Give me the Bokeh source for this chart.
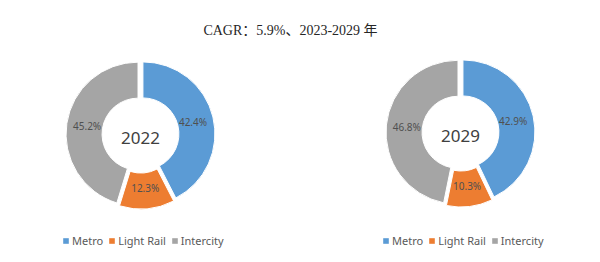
import numpy as np
from bokeh.plotting import figure
from bokeh.models import Range1d, ColumnDataSource, Legend, LegendItem
from bokeh.core.properties import value
from bokeh.embed import file_html
from bokeh.resources import INLINE

title_text = "CAGR：5.9%、2023-2029 年"
categories = ["Metro", "Light Rail", "Intercity"]
years = ["2022", "2029"]
share_2022 = [42.4, 12.3, 45.2]
share_2029 = [42.9, 10.3, 46.8]
colors = ["#5B9BD5", "#ED7D31", "#A5A5A5"]

W, H = 600, 262
p = figure(width=W, height=H, x_range=Range1d(0, W), y_range=Range1d(0, H),
           output_backend="svg", toolbar_location=None, min_border=0,
           x_axis_location=None, y_axis_location=None)
p.grid.visible = False
p.outline_line_color = None
p.background_fill_color = "white"
p.border_fill_color = "white"

# title
p.text(x=[290], y=[H - 30], text=[title_text], text_align="center", text_baseline="middle",
       text_font=value("Liberation Serif, Noto Sans CJK SC"), text_font_size="14px",
       text_color="#262626")

centers = [(140, H - 134), (460, H - 132)]
legend_x = [62, 382]
R_out, R_in, explode = 72, 36, 2.5
R_lab = (R_out + R_in) / 2

for (cx, cy), year, shares, lx0 in zip(centers, years, [share_2022, share_2029], legend_x):
    vals = np.array(shares, dtype=float)
    frac = vals / vals.sum()
    cum = np.concatenate([[0.0], np.cumsum(frac)])
    start = np.pi / 2 - cum[1:] * 2 * np.pi
    end = np.pi / 2 - cum[:-1] * 2 * np.pi
    mid = (start + end) / 2
    src = ColumnDataSource(dict(
        x=cx + explode * np.cos(mid), y=cy + explode * np.sin(mid),
        start=start, end=end, color=colors,
        lx=cx + R_lab * np.cos(mid), ly=cy + R_lab * np.sin(mid),
        label=[f"{v:.1f}%" for v in shares],
    ))
    p.annular_wedge(x="x", y="y", inner_radius=R_in, outer_radius=R_out,
                    inner_radius_units="screen", outer_radius_units="screen",
                    start_angle="start", end_angle="end", fill_color="color",
                    line_color="white", line_width=1, source=src)
    p.text(x="lx", y="ly", text="label", source=src, text_align="center",
           text_baseline="middle", text_font=value("Noto Sans"), text_font_size="10px",
           text_color="#505050")
    p.text(x=[cx], y=[cy - 3], text=[year], text_align="center", text_baseline="middle",
           text_font=value("Noto Sans"), text_font_size="17px", text_color="#404040")

    items = []
    for cat, c in zip(categories, colors):
        r = p.rect(x=[-1000], y=[-1000], width=1, height=1, fill_color=c, line_color=None)
        items.append(LegendItem(label=cat, renderers=[r]))
    leg = Legend(items=items, orientation="horizontal", location=(lx0, 14),
                 glyph_width=7, glyph_height=7, label_standoff=3, spacing=5,
                 padding=0, margin=0, border_line_color=None, background_fill_alpha=0,
                 label_text_font="Noto Sans", label_text_font_size="11px",
                 label_text_color="#595959", label_height=12)
    p.add_layout(leg)

open("out.html", "w").write(file_html(p, INLINE))
